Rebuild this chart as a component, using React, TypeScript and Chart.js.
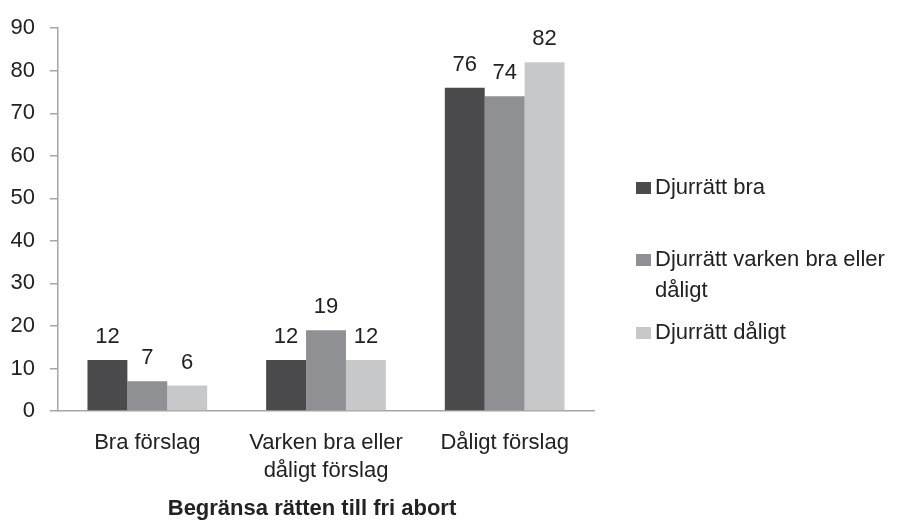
import React, { useEffect, useRef } from "react";
import { Chart, registerables } from "chart.js";

Chart.register(...registerables);

const categories: (string | string[])[] = [
  "Bra förslag",
  ["Varken bra eller", "dåligt förslag"],
  "Dåligt förslag",
];
const seriesNames = ["Djurrätt bra", "Djurrätt varken bra eller dåligt", "Djurrätt dåligt"];
const djurrattBra = [12, 12, 76];
const djurrattVarken = [7, 19, 74];
const djurrattDaligt = [6, 12, 82];
const yTicks = [0, 10, 20, 30, 40, 50, 60, 70, 80, 90];
const axisTitle = "Begränsa rätten till fri abort";

const COLORS = ["#4b4b4d", "#8f9093", "#c7c8ca"];
const FONT = "'Liberation Sans', Arial, Helvetica, sans-serif";
const TEXT = "#222222";
const AXIS = "#a6a6a6";
const FS = 22;

const valueLabels = {
  id: "valueLabels",
  afterDatasetsDraw(chart: any) {
    const ctx = chart.ctx;
    ctx.save();
    ctx.font = `${FS}px ${FONT}`;
    ctx.fillStyle = TEXT;
    ctx.textAlign = "center";
    ctx.textBaseline = "middle";
    chart.data.datasets.forEach((ds: any, i: number) => {
      const meta = chart.getDatasetMeta(i);
      meta.data.forEach((bar: any, j: number) => {
        ctx.fillText(String(ds.data[j]), bar.x, bar.y - 23);
      });
    });
    ctx.restore();
  },
};

const axisTitleDraw = {
  id: "axisTitleDraw",
  afterDraw(chart: any) {
    const ctx = chart.ctx;
    const { left, right } = chart.chartArea;
    ctx.save();
    ctx.font = `bold ${FS}px ${FONT}`;
    ctx.fillStyle = TEXT;
    ctx.textAlign = "center";
    ctx.textBaseline = "alphabetic";
    ctx.fillText(axisTitle, (left + right) / 2 - 14, chart.height - 10);
    ctx.restore();
  },
};

const sideLegend = {
  id: "sideLegend",
  afterDraw(chart: any) {
    const ctx = chart.ctx;
    const ys = [188, 260, 333];
    const lineH = 31;
    const x0 = chart.chartArea.right + 42;
    const maxW = 245;
    ctx.save();
    ctx.font = `${FS}px ${FONT}`;
    ctx.textBaseline = "middle";
    ctx.textAlign = "left";
    chart.data.datasets.forEach((ds: any, i: number) => {
      const words = String(ds.label).split(" ");
      const lines: string[] = [];
      let cur = "";
      words.forEach((w) => {
        const t = cur ? cur + " " + w : w;
        if (ctx.measureText(t).width > maxW && cur) {
          lines.push(cur);
          cur = w;
        } else cur = t;
      });
      if (cur) lines.push(cur);
      const y = ys[i];
      ctx.fillStyle = ds.backgroundColor;
      ctx.fillRect(x0, y - 6, 15, 12);
      ctx.fillStyle = TEXT;
      lines.forEach((ln, k) => ctx.fillText(ln, x0 + 19, y + k * lineH));
    });
    ctx.restore();
  },
};

export default function App() {
  const ref = useRef<HTMLCanvasElement | null>(null);
  useEffect(() => {
    if (!ref.current) return;
    const chart = new Chart(ref.current, {
      type: "bar",
      data: {
        labels: categories as any,
        datasets: [djurrattBra, djurrattVarken, djurrattDaligt].map((d, i) => ({
          label: seriesNames[i],
          data: d,
          backgroundColor: COLORS[i],
          borderWidth: 0,
          categoryPercentage: 0.67,
          barPercentage: 1.0,
        })),
      },
      options: {
        animation: false,
        responsive: false,
        maintainAspectRatio: false,
        layout: { padding: { left: 0, top: 21, right: 310, bottom: 0 } },
        plugins: {
          legend: { display: false },
          tooltip: { enabled: false },
          title: { display: false },
        },
        scales: {
          x: {
            grid: { display: false, drawTicks: false, tickLength: 0 },
            border: { display: true, color: AXIS, width: 1.5 },
            ticks: {
              color: TEXT,
              font: { family: FONT, size: FS, lineHeight: 1.28 },
              padding: 18,
              maxRotation: 0,
              autoSkip: false,
            },
            title: { display: false },
            afterFit(scale: any) {
              scale.height = 114;
            },
          },
          y: {
            min: 0,
            max: 90,
            afterBuildTicks(scale: any) {
              scale.ticks = yTicks.map((v) => ({ value: v }));
            },
            grid: {
              drawOnChartArea: false,
              drawTicks: true,
              tickLength: 8,
              color: AXIS,
              lineWidth: 1.5,
            },
            border: { display: true, color: AXIS, width: 1.5 },
            ticks: {
              color: TEXT,
              font: { family: FONT, size: FS },
              padding: 15,
            },
            afterFit(scale: any) {
              scale.width = 58;
            },
          },
        },
      },
      plugins: [valueLabels, sideLegend, axisTitleDraw],
    });
    return () => chart.destroy();
  }, []);
  return (
    <div style={{ position: "fixed", left: 0, top: 0, width: 904, height: 525, background: "#fff" }}>
      <canvas ref={ref} width={904} height={525} style={{ width: 904, height: 525 }} />
    </div>
  );
}
